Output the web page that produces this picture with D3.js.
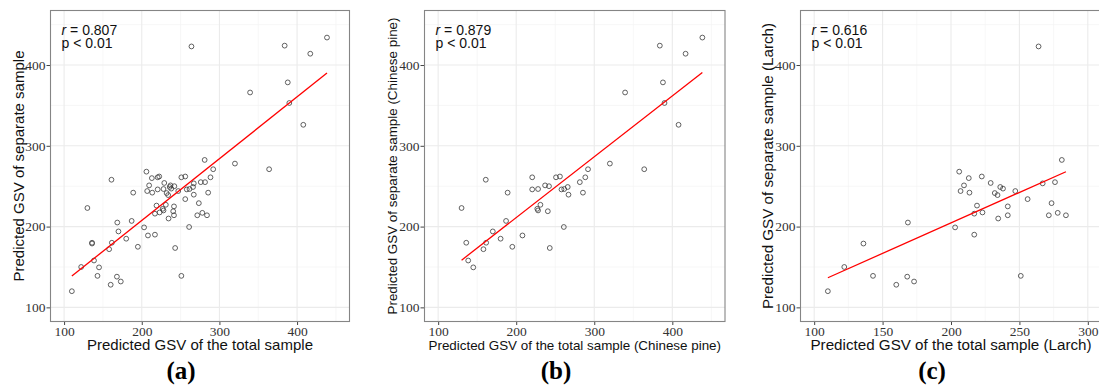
<!DOCTYPE html>
<html>
<head>
<meta charset="utf-8">
<script src="https://cdn.jsdelivr.net/npm/d3@7"></script>
<style>
    body { margin: 0; background: #fff; }
    svg { display: block; }
</style>
</head>
<body>
<div id="chart"></div>
<script>
// Chinese pine: predicted GSV of the total sample / of the separate sample
const pineTotal = [130, 136, 138.5, 145, 161, 158, 161.5, 170, 180, 187, 189, 195, 208, 220.5, 220.5, 228, 227, 228,
    231, 237, 242, 240.5, 243, 251, 256, 258, 261.5, 266, 267, 261, 281.5, 285.5, 288.5, 292, 320, 339.5, 364,
    384, 388, 390, 408, 417, 438.5];
const pineSeparate = [223, 180, 158, 149.5, 258, 172, 180, 194, 185, 207, 242, 175, 189, 261, 246, 246.5, 222, 220,
    227, 251, 250, 219, 173.5, 261, 262, 246, 246.5, 249, 239.5, 199.5, 255, 242, 261, 271, 278, 366, 271,
    424, 378.5, 353, 326, 414, 434];

// Larch: predicted GSV of the total sample / of the separate sample
const larchTotal = [110, 122, 136, 143, 160, 168, 168.5, 173, 203, 206, 207, 209.5, 213, 213.5, 219, 217, 217,
    222.5, 223, 229, 232, 234, 236, 238, 234.5, 241.5, 241.5, 247, 251, 256, 267, 276, 273.5, 271.5, 278, 284,
    281, 264];
const larchSeparate = [120, 150, 179, 139, 128, 138, 205, 132, 199, 268, 244, 251, 260, 242, 226, 216, 190,
    262, 217.5, 254, 241.5, 239, 249, 247, 210, 225, 214, 244, 139, 234, 253.5, 255, 229, 214, 217, 214,
    282.5, 423];

// labels
const panelLetters = ['(a)', '(b)', '(c)'];
const rValues = ['0.807', '0.879', '0.616'];
const pValues = ['0.01', '0.01', '0.01'];
const xTitles = ['Predicted GSV of the total sample', 'Predicted GSV of the total sample (Chinese pine)',
    'Predicted GSV of the total sample (Larch)'];
const yTitles = ['Predicted GSV of separate sample', 'Predicted GSV of separate sample (Chinese pine)',
    'Predicted GSV of separate sample (Larch)'];
const yTicks = [100, 200, 300, 400];
const xTicksWide = [100, 200, 300, 400];
const xTicksLarch = [100, 150, 200, 250, 300];

const width = 1099, height = 390;
const svg = d3.select('#chart').append('svg').attr('width', width).attr('height', height);

// least squares fit, returns [slope, intercept]
function fitLine(xs, ys) {
    const mx = d3.mean(xs), my = d3.mean(ys);
    let sxy = 0, sxx = 0;
    xs.forEach((x, i) => { sxy += (x - mx) * (ys[i] - my); sxx += (x - mx) * (x - mx); });
    const slope = sxy / sxx;
    return [slope, my - slope * mx];
}

function drawPanel(o) {
    const x = d3.scaleLinear().domain(o.xDomain).range([o.left, o.left + o.w]);
    const y = d3.scaleLinear().domain([82.5, 467.5]).range([321.5, 10.5]);
    const g = svg.append('g');

    // minor grid, half way between major breaks
    const step = o.xTicks[1] - o.xTicks[0];
    const xMinor = o.xTicks.map(t => t + step / 2).filter(v => v < o.xDomain[1]);
    const yMinor = [150, 250, 350, 450];
    g.selectAll('.vminor').data(xMinor).join('line')
        .attr('x1', d => x(d)).attr('x2', d => x(d)).attr('y1', 10.5).attr('y2', 321.5)
        .style('stroke', '#f3f3f3').style('stroke-width', 0.7);
    g.selectAll('.hminor').data(yMinor).join('line')
        .attr('x1', o.left).attr('x2', o.left + o.w).attr('y1', d => y(d)).attr('y2', d => y(d))
        .style('stroke', '#f3f3f3').style('stroke-width', 0.7);
    // major grid
    g.selectAll('.vmajor').data(o.xTicks).join('line')
        .attr('x1', d => x(d)).attr('x2', d => x(d)).attr('y1', 10.5).attr('y2', 321.5)
        .style('stroke', '#ebebeb').style('stroke-width', 1.1);
    g.selectAll('.hmajor').data(yTicks).join('line')
        .attr('x1', o.left).attr('x2', o.left + o.w).attr('y1', d => y(d)).attr('y2', d => y(d))
        .style('stroke', '#ebebeb').style('stroke-width', 1.1);

    // axes
    const xAxis = g.append('g').attr('transform', 'translate(0,321.5)')
        .call(d3.axisBottom(x).tickValues(o.xTicks).tickSize(3.5).tickPadding(1));
    const yAxis = g.append('g').attr('transform', `translate(${o.left},0)`)
        .call(d3.axisLeft(y).tickValues(yTicks).tickSize(4).tickPadding(1));
    [xAxis, yAxis].forEach(a => {
        a.select('.domain').remove();
        a.selectAll('line').style('stroke', '#444');
        a.selectAll('text').style('font-family', '"Liberation Serif", serif')
            .style('font-size', '13.5px').style('fill', '#333');
    });

    // points
    g.selectAll('circle').data(o.xs.map((v, i) => [v, o.ys[i]])).join('circle')
        .attr('cx', d => x(d[0])).attr('cy', d => y(d[1])).attr('r', 2.4)
        .style('fill', 'none').style('stroke', '#3a3a3a').style('stroke-width', 0.8);

    // regression line over the range of the data
    const [slope, intercept] = fitLine(o.xs, o.ys);
    const ext = d3.extent(o.xs);
    g.append('path')
        .datum(ext.map(v => [v, intercept + slope * v]))
        .attr('d', d3.line().x(d => x(d[0])).y(d => y(d[1])))
        .style('fill', 'none').style('stroke', '#ff0000').style('stroke-width', 1.3);

    // border
    g.append('rect').attr('x', o.left).attr('y', 10.5).attr('width', o.w).attr('height', 311)
        .style('fill', 'none').style('stroke', '#858585').style('stroke-width', 1.1);

    // r and p labels
    const ann = g.append('text').style('font-family', '"Liberation Sans", Arial, sans-serif')
        .style('font-size', '14px').style('fill', '#111');
    const l1 = ann.append('tspan').attr('x', o.left + 11).attr('y', 35);
    l1.append('tspan').style('font-style', 'italic').text('r');
    l1.append('tspan').text(' = ' + o.r);
    ann.append('tspan').attr('x', o.left + 11).attr('y', 47.5).text('p < ' + o.p);

    // axis titles
    g.append('text').attr('x', o.left + o.w / 2).attr('y', 349.5).attr('text-anchor', 'middle')
        .style('font-family', '"Liberation Sans", Arial, sans-serif').style('font-size', o.titleSize + 'px')
        .style('fill', '#111').text(o.xTitle);
    g.append('text').attr('transform', `translate(${o.yTitleX},166) rotate(-90)`).attr('text-anchor', 'middle')
        .style('font-family', '"Liberation Sans", Arial, sans-serif').style('font-size', o.titleSize + 'px')
        .style('fill', '#111').text(o.yTitle);

    // panel letter
    g.append('text').attr('x', o.letterX).attr('y', 378.5).attr('text-anchor', 'middle')
        .style('font-family', '"Liberation Serif", serif').style('font-weight', 'bold')
        .style('font-size', '25px').style('fill', '#000').text(o.letter);
}

drawPanel({ left: 50.5, w: 299, xDomain: [82.5, 467.5], xTicks: xTicksWide,
    xs: pineTotal.concat(larchTotal), ys: pineSeparate.concat(larchSeparate),
    r: rValues[0], p: pValues[0], xTitle: xTitles[0], yTitle: yTitles[0], titleSize: 15,
    yTitleX: 24, letter: panelLetters[0], letterX: 181 });
drawPanel({ left: 424.5, w: 300.5, xDomain: [82.5, 467.5], xTicks: xTicksWide,
    xs: pineTotal, ys: pineSeparate,
    r: rValues[1], p: pValues[1], xTitle: xTitles[1], yTitle: yTitles[1], titleSize: 13.4,
    yTitleX: 396.5, letter: panelLetters[1], letterX: 556 });
drawPanel({ left: 800.5, w: 301, xDomain: [90, 310], xTicks: xTicksLarch,
    xs: larchTotal, ys: larchSeparate,
    r: rValues[2], p: pValues[2], xTitle: xTitles[2], yTitle: yTitles[2], titleSize: 15.2,
    yTitleX: 773, letter: panelLetters[2], letterX: 932 });
</script>
</body>
</html>
